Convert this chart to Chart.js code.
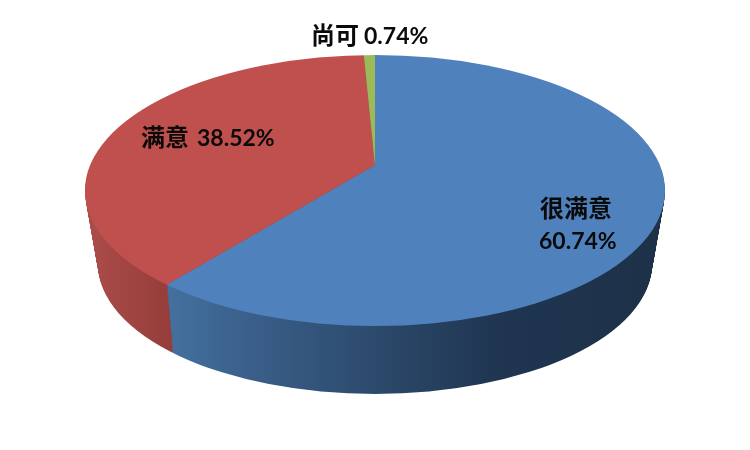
<!DOCTYPE html>
<html>
<head>
<meta charset="utf-8">
<title>满意度</title>
<script src="https://cdn.jsdelivr.net/npm/chart.js@4"></script>
<style>
    body { margin: 0; background: #fff; }
    canvas { display: block; }
</style>
</head>
<body>
<canvas id="pieChart" width="750" height="450"></canvas>
<script>
const categories = ['很满意', '满意', '尚可'];
const values = [60.74, 38.52, 0.74];
const topColors = ['#4F81BD', '#C0504D', '#9BBB59'];

// 3D look: the top face is a clipped, squashed pie, the wall is the same pie stacked downwards
const squash = 0.46;
const topFace = { cx: 375, cy: 190.5, rx: 290, ry: 135.5, apexY: 165 };
const bottomFace = { cx: 375, cy: 264, rx: 277, ry: 130, apexY: 236 };
const wallSteps = 70;

function mix(a, b, t) {
    return a + (b - a) * t;
}

function wallGradient(ctx, stops) {
    const g = ctx.createLinearGradient(86, 0, 665, 0);
    stops.forEach(s => g.addColorStop((s[0] - 86) / 579, s[1]));
    return g;
}

function setFace(ctx, arc, face) {
    ctx.beginPath();
    ctx.ellipse(face.cx, face.cy, face.rx, face.ry, 0, 0, Math.PI * 2);
    ctx.clip();
    ctx.translate(face.cx, face.apexY);
    ctx.scale(1, squash);
    ctx.translate(-arc.x, -arc.y);
}

// label: CJK name and bold number are separate runs
function drawLabel(ctx, name, pct, x, nameY, pctX, pctY) {
    ctx.fillStyle = '#0a0a0a';
    ctx.textBaseline = 'alphabetic';
    ctx.font = 'bold 24px "Noto Sans CJK SC"';
    ctx.fillText(name, x, nameY);
    ctx.font = 'bold 23px Lato';
    ctx.fillText(pct, pctX, pctY);
}

const pie3d = {
    id: 'pie3d',
    beforeDatasetsDraw(chart) {
        const ctx = chart.ctx;
        const arcs = chart.getDatasetMeta(0).data;
        const walls = [
            wallGradient(ctx, [[168, '#44709F'], [250, '#3A5F8A'], [375, '#2C4A6C'], [500, '#1F3550'], [665, '#1D3148']]),
            wallGradient(ctx, [[86, '#AC4D4A'], [172, '#953D3A']]),
            wallGradient(ctx, [[86, '#76903F'], [665, '#76903F']])
        ];
        for (let i = wallSteps; i > 0; i--) {
            const t = i / wallSteps;
            const face = {
                cx: topFace.cx,
                cy: mix(topFace.cy, bottomFace.cy, t),
                rx: mix(topFace.rx, bottomFace.rx, t),
                ry: mix(topFace.ry, bottomFace.ry, t),
                apexY: mix(topFace.apexY, bottomFace.apexY, t)
            };
            ctx.save();
            setFace(ctx, arcs[0], face);
            arcs.forEach((arc, idx) => {
                const original = arc.options;
                arc.options = Object.assign({}, original, { backgroundColor: walls[idx] });
                arc.draw(ctx);
                arc.options = original;
            });
            ctx.restore();
        }
        ctx.save();
        setFace(ctx, arcs[0], topFace);
    },
    afterDatasetsDraw(chart) {
        const ctx = chart.ctx;
        ctx.restore();
        drawLabel(ctx, categories[2], values[2].toFixed(2) + '%', 311, 44, 364, 44);
        drawLabel(ctx, categories[1], values[1].toFixed(2) + '%', 141, 146, 197, 146);
        drawLabel(ctx, categories[0], values[0].toFixed(2) + '%', 540, 217, 539, 249);
    }
};

new Chart(document.getElementById('pieChart').getContext('2d'), {
    type: 'pie',
    data: {
        labels: categories,
        datasets: [{
            data: values,
            backgroundColor: topColors,
            borderWidth: 0,
            radius: 420,
            clip: false
        }]
    },
    options: {
        responsive: false,
        animation: false,
        events: [],
        layout: { padding: 0 },
        plugins: {
            legend: { display: false },
            tooltip: { enabled: false }
        }
    },
    plugins: [pie3d]
});
</script>
</body>
</html>
